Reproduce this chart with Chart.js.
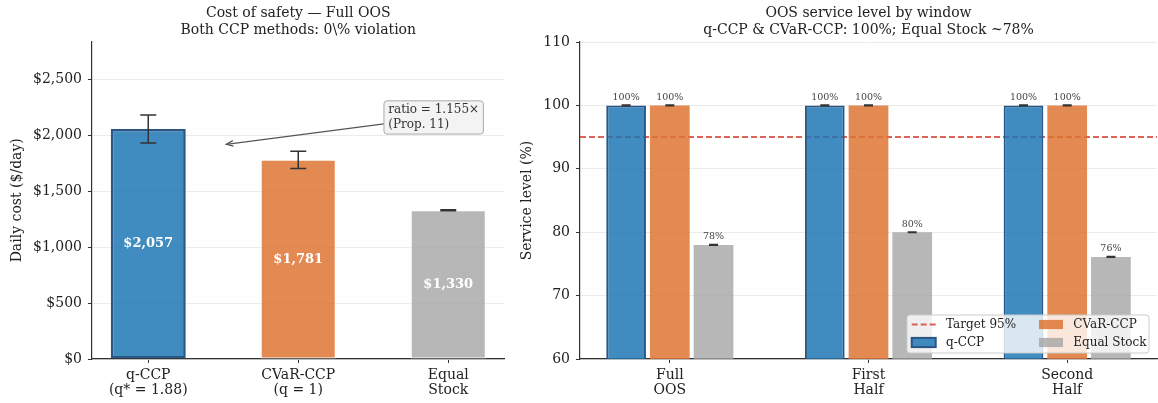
<!DOCTYPE html>
<html><head><meta charset="utf-8">
<script src="https://cdn.jsdelivr.net/npm/chart.js@4.4.1/dist/chart.umd.min.js"></script>
<style>
html,body{margin:0;padding:0;background:#fff;width:1158px;height:403px;overflow:hidden}
#left{position:absolute;left:0;top:0}
#right{position:absolute;left:508px;top:0}
</style></head><body>
<canvas id="left" width="508" height="403"></canvas>
<canvas id="right" width="650" height="403"></canvas>
<script>
// ---------- data ----------
const costMethods = ['q-CCP', 'CVaR-CCP', 'Equal Stock'];
const costTickLabels = [['q-CCP', '(q* = 1.88)'], ['CVaR-CCP', '(q = 1)'], ['Equal', 'Stock']];
const costMean = [2057, 1781, 1330];
const costErr = [125, 77, 4];
const costTicks = [0, 500, 1000, 1500, 2000, 2500];
const ratioNote = ['ratio = 1.155×', '(Prop. 11)'];

const windowLabels = [['Full', 'OOS'], ['First', 'Half'], ['Second', 'Half']];
const seriesNames = ['q-CCP', 'CVaR-CCP', 'Equal Stock'];
const slQccp = [100, 100, 100];
const slCvar = [100, 100, 100];
const slEqual = [78.0, 80.0, 76.1];
const slQccpErr = [0.05, 0.05, 0.05];
const slCvarErr = [0.05, 0.05, 0.05];
const slEqualErr = [0.05, 0.05, 0.05];
const slTarget = 95;
const slTicks = [60, 70, 80, 90, 100, 110];

// ---------- styles ----------
const FONT = "'DejaVu Serif', serif";
Chart.defaults.font.family = FONT;
Chart.defaults.color = '#222';
Chart.defaults.animation = false;
const C = {
  blue: 'rgba(31,119,180,0.85)', blueEdge: '#2b5583',
  orange: 'rgba(221,118,52,0.85)', gray: 'rgba(165,165,165,0.8)',
  red: 'rgba(210,55,40,0.78)', axis: '#333', grid: '#ebebeb'
};

const errorBars = {
  id: 'errorBars',
  afterDatasetsDraw(chart, args, opts) {
    const ctx = chart.ctx, ys = chart.scales.y;
    chart.data.datasets.forEach((ds, i) => {
      if (!ds.errors) return;
      chart.getDatasetMeta(i).data.forEach((bar, j) => {
        const v = ds.data[j].y, e = ds.errors[j];
        const y1 = ys.getPixelForValue(v + e), y2 = ys.getPixelForValue(v - e);
        ctx.save();
        ctx.strokeStyle = '#333'; ctx.lineWidth = opts.lw || 1.5;
        ctx.beginPath();
        ctx.moveTo(bar.x, y1); ctx.lineTo(bar.x, y2);
        ctx.moveTo(bar.x - opts.cap, y1); ctx.lineTo(bar.x + opts.cap, y1);
        ctx.moveTo(bar.x - opts.cap, y2); ctx.lineTo(bar.x + opts.cap, y2);
        ctx.stroke();
        ctx.restore();
      });
    });
  }
};

const costLabels = {
  id: 'costLabels',
  afterDatasetsDraw(chart) {
    const ctx = chart.ctx, ys = chart.scales.y;
    const ds = chart.data.datasets[0];
    chart.getDatasetMeta(0).data.forEach((bar, j) => {
      const v = ds.data[j].y;
      ctx.save();
      ctx.fillStyle = '#fff';
      ctx.font = 'bold 13px ' + FONT;
      ctx.textAlign = 'center'; ctx.textBaseline = 'middle';
      ctx.fillText('$' + v.toLocaleString('en-US'), bar.x, ys.getPixelForValue(v / 2));
      ctx.restore();
    });
  }
};

const ratioAnnotation = {
  id: 'ratioAnnotation',
  afterDraw(chart, args, opts) {
    const ctx = chart.ctx, xs = chart.scales.x, ys = chart.scales.y;
    ctx.save();
    ctx.font = '12px ' + FONT;
    const lh = 14.3, padX = 4.3, padY = 2.3;
    const tw = Math.max(...opts.lines.map(l => ctx.measureText(l).width));
    const tx = xs.getPixelForValue(opts.xytext[0]);
    const tcy = ys.getPixelForValue(opts.xytext[1]);
    const bh = opts.lines.length * lh + 2 * padY;
    const bx = tx - padX, by = tcy - bh / 2, bw = tw + 2 * padX;
    // arrow (from box center, clipped to box edge)
    const hx = xs.getPixelForValue(opts.xy[0]), hy = ys.getPixelForValue(opts.xy[1]);
    const cx = bx + bw / 2, cy = by + bh / 2;
    const t = (cx - bx) / (cx - hx);
    const sx = bx, sy = cy + t * (hy - cy);
    ctx.strokeStyle = '#555'; ctx.lineWidth = 1.2;
    ctx.beginPath(); ctx.moveTo(sx, sy); ctx.lineTo(hx, hy); ctx.stroke();
    const ang = Math.atan2(hy - sy, hx - sx), hl = 7.5, hw = 0.38;
    ctx.beginPath();
    ctx.moveTo(hx - hl * Math.cos(ang - hw), hy - hl * Math.sin(ang - hw));
    ctx.lineTo(hx, hy);
    ctx.lineTo(hx - hl * Math.cos(ang + hw), hy - hl * Math.sin(ang + hw));
    ctx.stroke();
    // box
    ctx.fillStyle = '#f3f3f3'; ctx.strokeStyle = '#aaaaaa'; ctx.lineWidth = 1;
    ctx.beginPath(); ctx.roundRect(bx, by, bw, bh, 3); ctx.fill(); ctx.stroke();
    ctx.fillStyle = '#333'; ctx.textAlign = 'left'; ctx.textBaseline = 'middle';
    opts.lines.forEach((l, i) => ctx.fillText(l, tx, by + padY + lh * (i + 0.5)));
    ctx.restore();
  }
};

// ---------- left chart ----------
new Chart(document.getElementById('left'), {
  type: 'bar',
  data: {
    datasets: [{
      label: 'Daily cost',
      data: costMean.map((v, i) => ({ x: i, y: v })),
      errors: costErr,
      backgroundColor: [C.blue, C.orange, C.gray],
      borderColor: [C.blueEdge, 'rgba(255,255,255,0.9)', 'rgba(255,255,255,0.9)'],
      borderWidth: [2.6, 1, 1],
      borderSkipped: false,
      categoryPercentage: 0.5, barPercentage: 1
    }]
  },
  options: {
    responsive: false, animation: false,
    layout: { padding: { left: 0, right: 3.5, top: 0, bottom: 0 } },
    plugins: {
      legend: { display: false }, tooltip: { enabled: false },
      title: {
        display: true, fullSize: false,
        text: ['Cost of safety — Full OOS', 'Both CCP methods: 0\\% violation'],
        font: { size: 14, weight: 'normal', lineHeight: 1.19 }, color: '#222',
        padding: { top: 5, bottom: 3.2 }
      },
      errorBars: { cap: 8, lw: 1.5 },
      ratioAnnotation: { lines: ratioNote, xy: [0.52, 1920], xytext: [1.6, 2160] }
    },
    scales: {
      x: {
        type: 'linear', min: -0.375, max: 2.375, offset: false,
        afterBuildTicks: s => { s.ticks = costTickLabels.map((_, i) => ({ value: i })); },
        afterFit: s => { s.height = 44; },
        ticks: { callback: v => costTickLabels[v], font: { size: 14, lineHeight: 1.08 }, color: '#222', padding: 5, maxRotation: 0, autoSkip: false },
        grid: { offset: false, drawOnChartArea: false, drawTicks: true, tickLength: 4, tickColor: C.axis, tickWidth: 1 },
        border: { display: true, color: C.axis, width: 1.2 }
      },
      y: {
        min: 0, max: 2839,
        afterBuildTicks: s => { s.ticks = costTicks.map(v => ({ value: v })); },
        afterFit: s => { s.width = 92; },
        ticks: { callback: v => '$' + v.toLocaleString('en-US'), font: { size: 14 }, padding: 6, color: '#222' },
        grid: { color: C.grid, lineWidth: 1, tickColor: C.axis, tickLength: 4, drawTicks: true },
        border: { color: C.axis, width: 1.2 },
        title: { display: true, text: 'Daily cost ($/day)', font: { size: 14, lineHeight: 1.2 }, padding: { top: 8.6, bottom: 0 }, color: '#222' }
      }
    }
  },
  plugins: [errorBars, costLabels, ratioAnnotation]
});

// ---------- right chart ----------
const targetLine = {
  id: 'targetLine',
  beforeDatasetsDraw(chart, args, opts) {
    const ctx = chart.ctx, a = chart.chartArea, y = chart.scales.y.getPixelForValue(opts.value);
    ctx.save();
    ctx.strokeStyle = C.red; ctx.lineWidth = 2; ctx.setLineDash([6, 3]);
    ctx.beginPath(); ctx.moveTo(a.left, y); ctx.lineTo(a.right, y); ctx.stroke();
    ctx.restore();
  }
};

const pctLabels = {
  id: 'pctLabels',
  afterDatasetsDraw(chart) {
    const ctx = chart.ctx, ys = chart.scales.y;
    chart.data.datasets.forEach((ds, i) => {
      chart.getDatasetMeta(i).data.forEach((bar, j) => {
        const v = ds.data[j].y, e = ds.errors ? ds.errors[j] : 0;
        ctx.save();
        ctx.fillStyle = '#444'; ctx.font = '9.5px ' + FONT;
        ctx.textAlign = 'center'; ctx.textBaseline = 'bottom';
        ctx.fillText(Math.round(v) + '%', bar.x, ys.getPixelForValue(v + e) - 3);
        ctx.restore();
      });
    });
  }
};

const boxLegend = {
  id: 'boxLegend',
  afterDraw(chart, args, opts) {
    const ctx = chart.ctx, a = chart.chartArea;
    const w = 242, h = 38;
    const x0 = a.right - 8 - w, y0 = a.bottom - 6 - h;
    ctx.save();
    ctx.fillStyle = 'rgba(255,255,255,0.8)'; ctx.strokeStyle = '#cccccc'; ctx.lineWidth = 1;
    ctx.beginPath(); ctx.roundRect(x0, y0, w, h, 3); ctx.fill(); ctx.stroke();
    const ds = chart.data.datasets;
    const items = [
      { kind: 'line', label: 'Target ' + opts.target + '%' },
      { kind: 'box', d: ds[0] }, { kind: 'box', d: ds[1] }, { kind: 'box', d: ds[2] }
    ];
    const cols = [4.7, 132], rows = [9.5, 27.5];
    ctx.font = '12px ' + FONT; ctx.textBaseline = 'middle'; ctx.textAlign = 'left';
    items.forEach((it, k) => {
      const hx = x0 + cols[Math.floor(k / 2)], cy = y0 + rows[k % 2];
      if (it.kind === 'line') {
        ctx.strokeStyle = C.red; ctx.lineWidth = 2; ctx.setLineDash([6, 3]);
        ctx.beginPath(); ctx.moveTo(hx, cy); ctx.lineTo(hx + 24, cy); ctx.stroke();
        ctx.setLineDash([]);
      } else {
        ctx.fillStyle = it.d.backgroundColor;
        ctx.fillRect(hx, cy - 4.6, 24, 9.2);
        if (it.d.borderWidth) {
          ctx.strokeStyle = it.d.borderColor; ctx.lineWidth = it.d.borderWidth;
          ctx.strokeRect(hx, cy - 4.6, 24, 9.2);
        }
      }
      ctx.fillStyle = '#222';
      ctx.fillText(it.label || it.d.label, hx + 34.3, cy);
    });
    ctx.restore();
  }
};

new Chart(document.getElementById('right'), {
  type: 'bar',
  data: {
    datasets: [
      { label: seriesNames[0], data: slQccp.map((v, i) => ({ x: i, y: v })), errors: slQccpErr,
        backgroundColor: C.blue, borderColor: C.blueEdge, borderWidth: 2, borderSkipped: false },
      { label: seriesNames[1], data: slCvar.map((v, i) => ({ x: i, y: v })), errors: slCvarErr,
        backgroundColor: C.orange, borderWidth: 0 },
      { label: seriesNames[2], data: slEqual.map((v, i) => ({ x: i, y: v })), errors: slEqualErr,
        backgroundColor: C.gray, borderWidth: 0 }
    ]
  },
  options: {
    responsive: false, animation: false,
    datasets: { bar: { categoryPercentage: 0.66, barPercentage: 0.909 } },
    layout: { padding: { left: 0, right: 1, top: 0, bottom: 0 } },
    plugins: {
      legend: { display: false }, tooltip: { enabled: false },
      title: {
        display: true, fullSize: false,
        text: ['OOS service level by window', 'q-CCP & CVaR-CCP: 100%; Equal Stock ~78%'],
        font: { size: 14, weight: 'normal', lineHeight: 1.19 }, color: '#222',
        padding: { top: 5, bottom: 3.7 }
      },
      errorBars: { cap: 4.5, lw: 1.5 },
      targetLine: { value: slTarget },
      boxLegend: { target: slTarget }
    },
    scales: {
      x: {
        type: 'linear', min: -0.452, max: 2.452, offset: false,
        afterBuildTicks: s => { s.ticks = windowLabels.map((_, i) => ({ value: i })); },
        afterFit: s => { s.height = 44; },
        ticks: { callback: v => windowLabels[v], font: { size: 14, lineHeight: 1.08 }, color: '#222', padding: 5, maxRotation: 0, autoSkip: false },
        grid: { offset: false, drawOnChartArea: false, drawTicks: true, tickLength: 4, tickColor: C.axis, tickWidth: 1 },
        border: { display: true, color: C.axis, width: 1.2 }
      },
      y: {
        min: 60, max: 110,
        afterBuildTicks: s => { s.ticks = slTicks.map(v => ({ value: v })); },
        afterFit: s => { s.width = 72; },
        ticks: { font: { size: 14 }, padding: 6, color: '#222' },
        grid: { color: C.grid, lineWidth: 1, tickColor: C.axis, tickLength: 4, drawTicks: true },
        border: { color: C.axis, width: 1.2 },
        title: { display: true, text: 'Service level (%)', font: { size: 14, lineHeight: 1.2 }, padding: { top: 10.6, bottom: 0 }, color: '#222' }
      }
    }
  },
  plugins: [targetLine, errorBars, pctLabels, boxLegend]
});
</script>
</body></html>
